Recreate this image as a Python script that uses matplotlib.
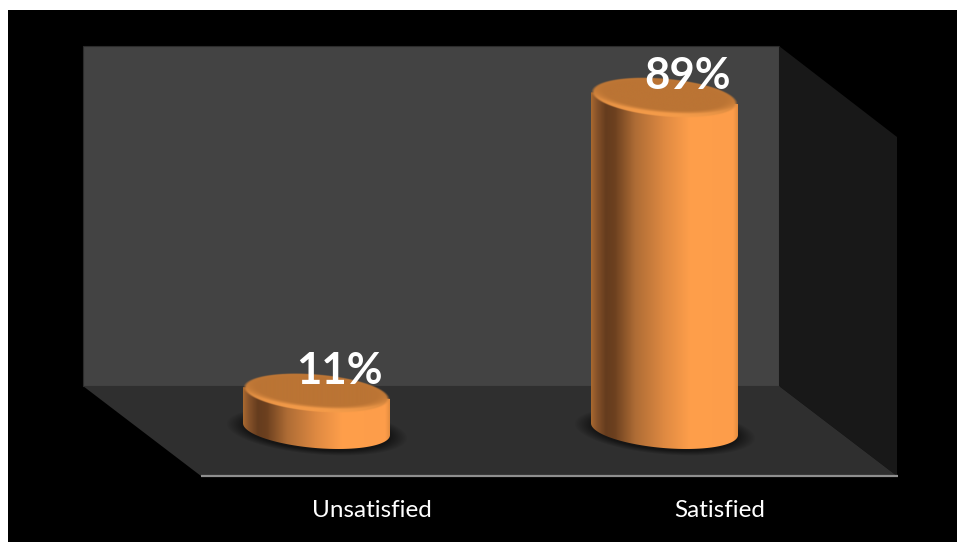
import numpy as np
import matplotlib
matplotlib.use("Agg")
import matplotlib.pyplot as plt
from matplotlib.colors import LinearSegmentedColormap, to_rgb
from matplotlib.patches import Polygon, Rectangle

categories = ["Unsatisfied", "Satisfied"]
values = [11, 89]
labels = ["11%", "89%"]

W, H = 957, 542
fig = plt.figure(figsize=(W / 100, H / 100), dpi=100, facecolor="white")

# the room, in pixel coords
bg = fig.add_axes([0, 0, 1, 1])
bg.set_xlim(0, W)
bg.set_ylim(H, 0)
bg.axis("off")
bg.add_patch(Rectangle((8, 10), W - 8, H - 10, fc="black", ec="none"))
bg.add_patch(Polygon([(83, 46), (779, 46), (779, 386), (83, 386)], fc="#434343", ec="#2b2b2b", lw=0.8))
bg.add_patch(Polygon([(779, 46), (897, 137), (897, 476), (779, 386)], fc="#181818", ec="none"))
bg.add_patch(Polygon([(83, 386), (779, 386), (897, 476), (201, 476)], fc="#2f2f2f", ec="none"))
bg.plot([201, 898], [476, 476], color="#8f8f8f", lw=1.6, solid_capstyle="butt")

# data axes: category 0/1 sit at x=316.5/664.5 px, value 0 at y=434.6 px, 3.78 px per %
PX_X = 348.0
PX_Y = 3.78
Y_MIN = -25
x0_px = 316.5 - 0.5 * PX_X
x1_px = 664.5 + 0.5 * PX_X
y0_px = 434.6
y_top = y0_px - 100 * PX_Y
y_bot = y0_px - Y_MIN * PX_Y
ax = fig.add_axes([x0_px / W, 1 - y_bot / H, (x1_px - x0_px) / W, (y_bot - y_top) / H])
ax.patch.set_alpha(0)
ax.axis("off")

half_w = 73.5
half_h = 19.0
tilt = 0.08
base_shift = -5.5  # base centre in px above the zero line

body_cmap = LinearSegmentedColormap.from_list("body", [
    (0.00, "#a8682f"), (0.04, "#86522a"), (0.10, "#653c1e"), (0.16, "#6c401f"),
    (0.30, "#ae6c35"), (0.50, "#df8a42"), (0.68, "#ff9f4b"), (0.97, "#fd9d4a"), (1.00, "#e48d40")])
center_col = np.array(to_rgb("#bb7434"))
rim_front = np.array(to_rgb("#f59c4a"))
rim_back = np.array(to_rgb("#c47b38"))


def edge(cx_px, cy_px, t):
    x = half_w * np.cos(t)
    y = cy_px + half_h * np.sin(t) + tilt * x
    return cx_px + x, y


def to_data(xp, yp):
    return (xp - x0_px) / PX_X - 0.5, (y0_px - yp) / PX_Y


def draw_shadow(cx, cy):
    xs = np.linspace(cx - 110, cx + 110, 220)
    ys = np.linspace(cy - 45, cy + 45, 90)
    xx, yy = np.meshgrid(xs, ys)
    r = np.sqrt(((xx - cx) / 91) ** 2 + ((yy - cy - tilt * (xx - cx)) / 24) ** 2)
    a = np.clip((1.0 - r) / 0.2, 0, 1) * 0.55
    img = np.zeros(xx.shape + (4,))
    img[..., 3] = a
    l, b = to_data(xs[0], ys[-1])
    r_, t_ = to_data(xs[-1], ys[0])
    ax.imshow(img, extent=[l, r_, b, t_], origin="upper", aspect="auto", zorder=1, interpolation="bilinear")


def draw_cylinder(i, val):
    cx = x0_px + (i + 0.5) * PX_X
    top = y0_px - val * PX_Y
    base = y0_px + base_shift
    draw_shadow(cx, base + 2)

    # side of the cylinder
    t = np.linspace(0, np.pi, 80)
    ex, ey = edge(cx, base, t)
    px = np.r_[ex, [cx - half_w, cx + half_w]]
    py = np.r_[ey, [edge(cx, top, np.pi)[1], edge(cx, top, 0.0)[1]]]
    dx, dy = to_data(px, py)
    clip = Polygon(np.c_[dx, dy], transform=ax.transData, fc="none", ec="none")
    ax.add_patch(clip)
    l, b = to_data(cx - half_w, base + 30)
    r_, t_ = to_data(cx + half_w, top - 30)
    im = ax.imshow(np.linspace(0, 1, 256)[None, :], cmap=body_cmap, extent=[l, r_, b, t_],
                   aspect="auto", zorder=2, interpolation="bilinear")
    im.set_clip_path(clip)

    # lid, lighter rim at the front
    xs = np.linspace(cx - half_w - 1, cx + half_w + 1, 300)
    ys = np.linspace(top - 28, top + 28, 168)
    xx, yy = np.meshgrid(xs, ys)
    u = (xx - cx) / half_w
    v = (yy - top - tilt * (xx - cx)) / half_h
    r = np.sqrt(u ** 2 + v ** 2)
    rr = np.sqrt(u ** 2 + ((v + 0.1) / 0.9) ** 2)
    m = np.clip((rr - 0.8) / 0.2, 0, 1)[..., None] ** 1.5
    front = np.clip((v + 0.3) / 1.2, 0, 1)[..., None]
    rim = rim_back * (1 - front) + rim_front * front
    img = np.zeros(xx.shape + (4,))
    img[..., :3] = center_col * (1 - m) + rim * m
    img[..., 3] = np.clip((1 - r) * half_h * 1.2, 0, 1)
    l, b = to_data(xs[0], ys[-1])
    r_, t_ = to_data(xs[-1], ys[0])
    ax.imshow(img, extent=[l, r_, b, t_], origin="upper", aspect="auto", zorder=3, interpolation="bilinear")


for i, val in enumerate(values):
    draw_cylinder(i, val)

ax.set_xlim(-0.5, 1.5)
ax.set_ylim(Y_MIN, 100)

for i, val in enumerate(values):
    ax.text(i + 23 / PX_X, val + 9 / PX_Y, labels[i], color="white", fontsize=31.5, fontweight="bold",
            family="Lato", ha="center", va="baseline", zorder=5, clip_on=False)
    ax.text(i + 55 / PX_X, -75.5 / PX_Y, categories[i], color="white", fontsize=17.5,
            family="Lato", ha="center", va="center", zorder=5, clip_on=False)

fig.savefig("out.png", dpi=100, facecolor=fig.get_facecolor())
